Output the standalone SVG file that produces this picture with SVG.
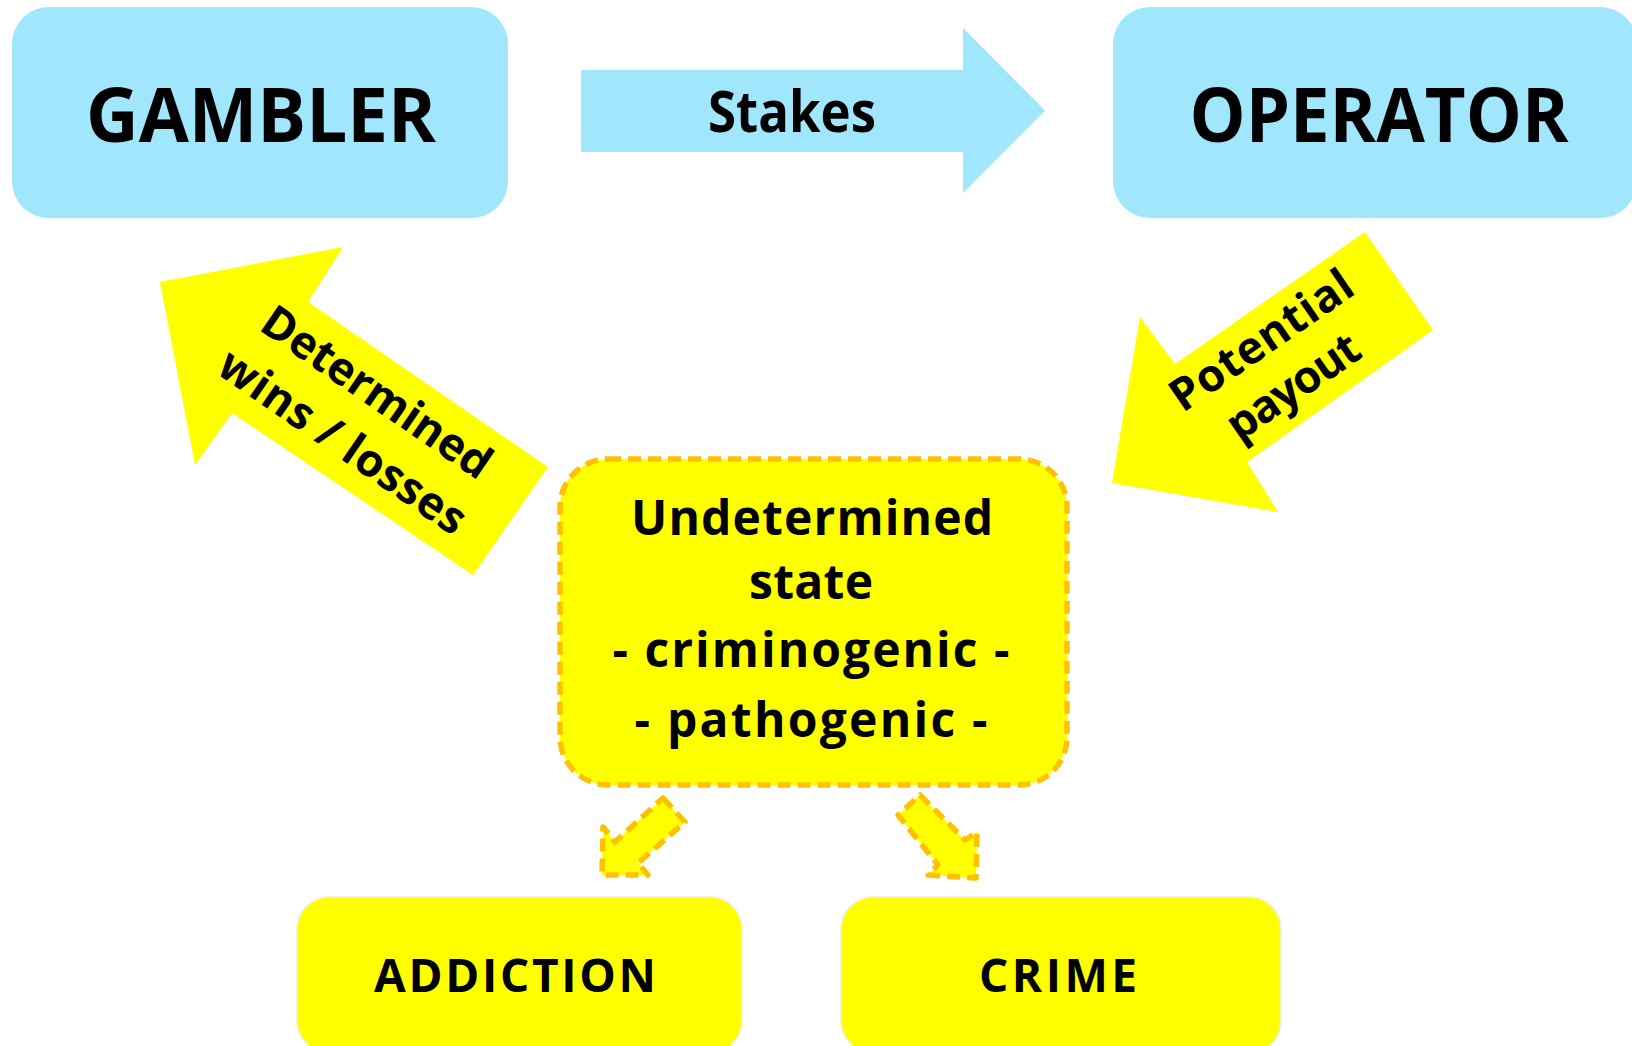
<svg xmlns="http://www.w3.org/2000/svg" width="1632" height="1046" viewBox="0 0 1632 1046">
<style>
.blue{fill:#A0E7FD;}
.yel{fill:#FFFF00;}
.box{fill:#FFFF00;stroke:#EDEDED;stroke-width:1.5;}
.dash{fill:#FFFF00;stroke:#FFC000;stroke-width:5.5;stroke-dasharray:13 7;stroke-linejoin:round;}
text{font-family:"Open Sans","Liberation Sans",sans-serif;font-weight:bold;fill:#000;text-anchor:middle;}
.big{font-size:76px;}
.mid{font-size:48px;}
.rot{font-size:45px;}
</style>
<rect width="1632" height="1046" fill="#FFFFFF"/>
<g id="connectors">
  <g id="stakes">
    <path class="blue" d="M581,70 H963 V28 L1045,110.5 L963,193 V152 H581 Z"/>
    <text x="792" y="132" style="font-size:57px" textLength="168" lengthAdjust="spacingAndGlyphs">Stakes</text>
  </g>
  <g id="wins-losses">
    <polygon class="yel" points="160,282 343,247 308,302 548,467 473,575 232,413 195,465"/>
    <g transform="translate(368,405) rotate(34.5)">
      <text class="rot" x="0" y="0" textLength="268" lengthAdjust="spacing">Determined</text>
      <text class="rot" x="0" y="60" textLength="290" lengthAdjust="spacing">wins / losses</text>
    </g>
  </g>
  <g id="payout">
    <polygon class="yel" points="1365,232 1433,330 1247,462 1278,512 1112,483 1140,317 1175,364"/>
    <g transform="translate(1270,353) rotate(-34.6)">
      <text class="rot" x="0" y="0" textLength="212" lengthAdjust="spacing">Potential</text>
      <text class="rot" x="0" y="56" textLength="152" lengthAdjust="spacing">payout</text>
    </g>
  </g>
  <polygon id="to-addiction" class="dash" points="663,798 685,822 638,863 648,875 602,875 603,827 615,842"/>
  <polygon id="to-crime" class="dash" points="920,795 965,840 977,832 976,878 928,875 938,865 898,815"/>
</g>
<g id="gambler">
  <rect class="blue" x="12" y="7" width="496" height="211" rx="37"/>
  <text class="big" x="261" y="142" textLength="350" lengthAdjust="spacingAndGlyphs">GAMBLER</text>
</g>
<g id="operator">
  <rect class="blue" x="1113" y="7" width="524" height="211" rx="37"/>
  <text class="big" x="1379" y="142" textLength="379" lengthAdjust="spacingAndGlyphs">OPERATOR</text>
</g>
<g id="undetermined">
  <rect class="dash" x="560" y="459" width="507" height="326" rx="48"/>
  <text class="mid" x="812" y="535" textLength="362" lengthAdjust="spacing">Undetermined</text>
  <text class="mid" x="811" y="599" textLength="124" lengthAdjust="spacing">state</text>
  <text class="mid" x="811" y="667" textLength="397" lengthAdjust="spacing">- criminogenic -</text>
  <text class="mid" x="811" y="737" textLength="353" lengthAdjust="spacing">- pathogenic -</text>
</g>
<g id="addiction">
  <rect class="box" x="297" y="897" width="445" height="156" rx="32"/>
  <text style="font-size:46px" x="515" y="992" textLength="282" lengthAdjust="spacing">ADDICTION</text>
</g>
<g id="crime">
  <rect class="box" x="841" y="897" width="440" height="156" rx="32"/>
  <text style="font-size:46px" x="1058" y="992" textLength="158" lengthAdjust="spacing">CRIME</text>
</g>
</svg>
